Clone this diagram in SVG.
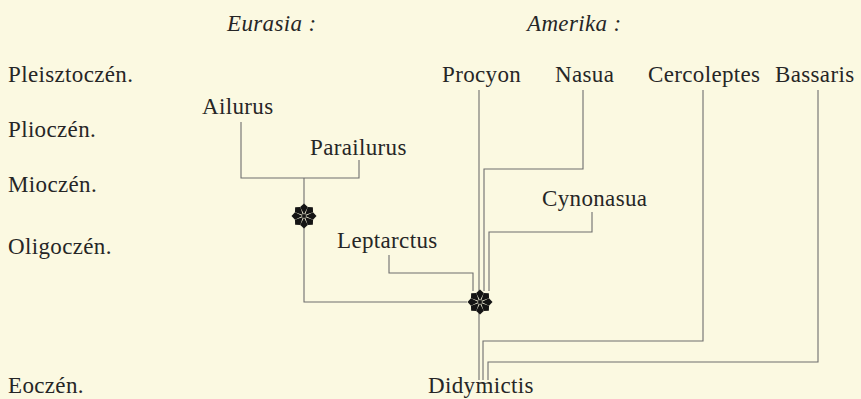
<svg xmlns="http://www.w3.org/2000/svg" width="861" height="399" viewBox="0 0 861 399">
  <defs>
    <style>
      .t { font-family: "Liberation Serif", "DejaVu Serif", serif; font-size: 23px; fill: #262626; letter-spacing: 0.35px; }
      .h { font-style: italic; }
      .c { fill: none; stroke: #6e6e6e; stroke-width: 1.1; }
      .star { fill: #141414; }
    </style>
    <g id="starShape">
      <path id="petal" d="M0,-1.5 L-3.8,-9 L0,-12.5 L3.8,-9 Z"/>
      <use href="#petal" transform="rotate(45)"/>
      <use href="#petal" transform="rotate(90)"/>
      <use href="#petal" transform="rotate(135)"/>
      <use href="#petal" transform="rotate(180)"/>
      <use href="#petal" transform="rotate(225)"/>
      <use href="#petal" transform="rotate(270)"/>
      <use href="#petal" transform="rotate(315)"/>
      <circle r="2"/>
    </g>
  </defs>
  <rect width="861" height="399" fill="#fbf9e1"/>

  <g id="headers">
    <text class="t h" x="227" y="31">Eurasia :</text>
    <text class="t h" x="527" y="31">Amerika :</text>
  </g>

  <g id="epochs">
    <text class="t" x="8" y="82">Pleisztoczén.</text>
    <text class="t" x="8" y="137">Plioczén.</text>
    <text class="t" x="8" y="192">Mioczén.</text>
    <text class="t" x="8" y="254">Oligoczén.</text>
    <text class="t" x="8" y="393">Eoczén.</text>
  </g>

  <g id="connectors">
    <path class="c" d="M241,122 V178 H359 V160"/>
    <path class="c" d="M304,178 V204"/>
    <path class="c" d="M304,227 V302 H467"/>
    <path class="c" d="M389,255 V273 H473 V291"/>
    <path class="c" d="M479,90 V291"/>
    <path class="c" d="M583,90 V169 H484 V291"/>
    <path class="c" d="M592,212 V232 H489 V291"/>
    <path class="c" d="M479,313 V380"/>
    <path class="c" d="M703,90 V341 H483 V380"/>
    <path class="c" d="M818,90 V362 H488 V380"/>
  </g>

  <g id="node-ailurus"><text class="t" x="202" y="114">Ailurus</text></g>
  <g id="node-parailurus"><text class="t" x="310" y="155">Parailurus</text></g>
  <g id="node-star1"><use href="#starShape" class="star" x="304" y="216"/></g>
  <g id="node-leptarctus"><text class="t" x="337" y="248">Leptarctus</text></g>
  <g id="node-star2"><use href="#starShape" class="star" x="480" y="302"/></g>
  <g id="node-procyon"><text class="t" x="442" y="82">Procyon</text></g>
  <g id="node-nasua"><text class="t" x="555" y="82">Nasua</text></g>
  <g id="node-cercoleptes"><text class="t" x="648" y="82">Cercoleptes</text></g>
  <g id="node-bassaris"><text class="t" x="775" y="82">Bassaris</text></g>
  <g id="node-cynonasua"><text class="t" x="542" y="206">Cynonasua</text></g>
  <g id="node-didymictis"><text class="t" x="428" y="393">Didymictis</text></g>
</svg>
